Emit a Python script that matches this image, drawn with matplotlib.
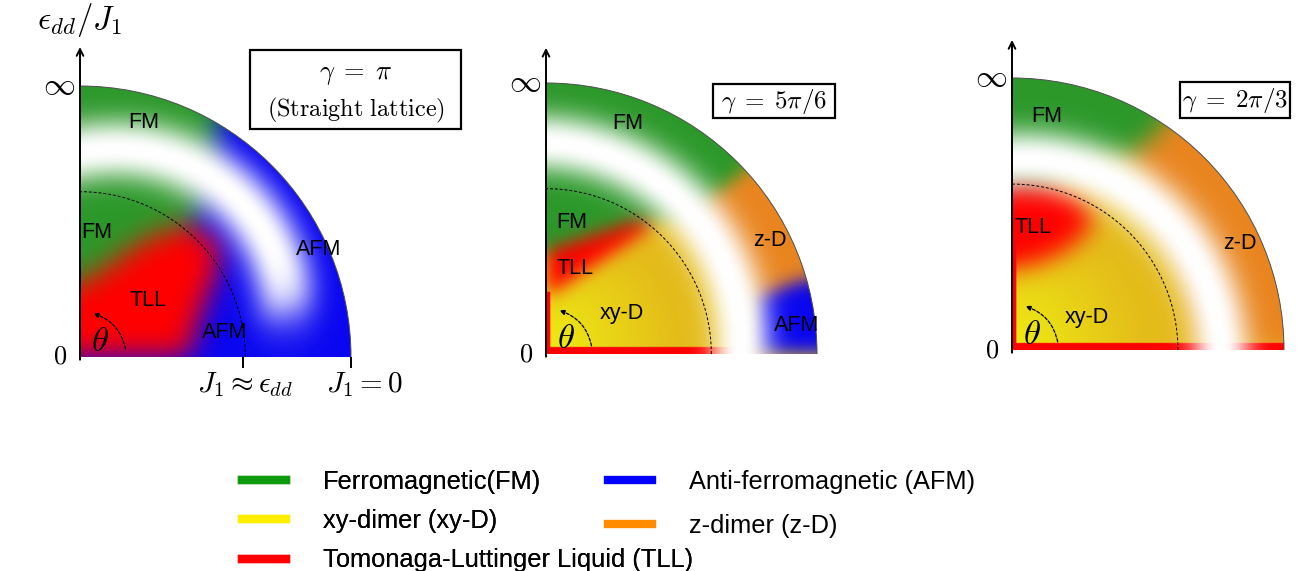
import numpy as np
import matplotlib
import matplotlib.pyplot as plt
from matplotlib.path import Path
from matplotlib.patches import Wedge, Arc, Rectangle, FancyArrowPatch
from matplotlib.lines import Line2D

plt.rcParams['mathtext.fontset'] = 'cm'
plt.rcParams['font.family'] = ['Liberation Sans', 'DejaVu Sans']

W, H = 1302, 571

# phase colours inside the diagrams
colors = {'FM': '#2c982a', 'AFM': '#0a06f0', 'TLL': '#ff0000',
          'xy-D': '#e4bb1a', 'z-D': '#e9851f'}
xyd_core = '#eeee12'

# legend
legend1_keys = ['FM', 'xy-D', 'TLL']
legend1_labels = ['Ferromagnetic(FM)', 'xy-dimer (xy-D)', 'Tomonaga-Luttinger Liquid (TLL)']
legend2_keys = ['AFM', 'z-D']
legend2_labels = ['Anti-ferromagnetic (AFM)', 'z-dimer (z-D)']
swatch = {'FM': '#0c9a0c', 'AFM': '#0000ff', 'xy-D': '#ffee00',
          'z-D': '#ff8c00', 'TLL': '#ff0000'}

# panel 1 : gamma = pi   (radius 1 = epsilon_dd/J1 -> infinity)
p1_base = 'AFM'
p1_regions = [
    ('FM', [(0, 0.27), (0.12, 0.35), (0.25, 0.44), (0.40, 0.49), (0.46, 0.56),
            (0.48, 0.75), (0.52, 0.88), (0.58, 1.2), (0, 1.2)]),
    ('TLL', [(0, 0), (0.40, 0), (0.44, 0.15), (0.50, 0.30), (0.52, 0.42),
             (0.40, 0.49), (0.25, 0.44), (0.12, 0.35), (0, 0.27)]),
]
p1_labels = [('FM', 0.236, 0.867), ('FM', 0.063, 0.46), ('TLL', 0.25, 0.21),
             ('AFM', 0.535, 0.092), ('AFM', 0.88, 0.395)]
p1_ticks = [0.6, 1.0]
p1_ticklabels = [r'$J_1 \approx \epsilon_{dd}$', r'$J_1 = 0$']
p1_ticklabel_x = [0.61, 1.05]

# panel 2 : gamma = 5pi/6
p2_base = 'xy-D'
p2_regions = [
    ('FM', [(0, 0.37), (0.36, 0.49), (0.53, 0.52), (0.69, 0.64), (1.2, 1.1),
            (1.2, 1.2), (0, 1.2)]),
    ('z-D', [(0.53, 0.52), (0.69, 0.64), (1.2, 1.1), (1.2, 0.30), (0.94, 0.27),
             (0.76, 0.20), (0.64, 0.34)]),
    ('AFM', [(0.74, 0), (1.2, 0), (1.2, 0.30), (0.94, 0.27), (0.76, 0.20)]),
    ('TLL', [(0, 0.21), (0, 0.38), (0.36, 0.50), (0.39, 0.47)]),
]
p2_labels = [('FM', 0.30, 0.85), ('FM', 0.096, 0.487), ('TLL', 0.107, 0.317),
             ('xy-D', 0.28, 0.15), ('z-D', 0.827, 0.42), ('AFM', 0.926, 0.107)]

# panel 3 : gamma = 2pi/3
p3_base = 'xy-D'
p3_regions = [
    ('FM', [(0, 0.60), (0.12, 0.64), (0.30, 0.68), (0.42, 0.70), (0.555, 0.82),
            (0.75, 1.2), (0, 1.2)]),
    ('z-D', [(0.42, 0.70), (0.555, 0.82), (0.75, 1.2), (1.3, 1.2), (1.3, 0),
             (0.70, 0), (0.64, 0.30), (0.52, 0.52)]),
    ('TLL', [(0, 0.30), (0.07, 0.31), (0.19, 0.36), (0.29, 0.45), (0.28, 0.53),
             (0.17, 0.61), (0.05, 0.63), (0, 0.63)]),
]
p3_labels = [('FM', 0.129, 0.857), ('TLL', 0.077, 0.452), ('xy-D', 0.276, 0.121),
             ('z-D', 0.838, 0.393)]

titles = [r'$\gamma\;=\;\pi$', r'$\gamma\;=\;5\pi/6$', r'$\gamma\;=\;2\pi/3$']

N = 500
g = np.linspace(0, 1, N)
X, Y = np.meshgrid(g, g)
RR = np.hypot(X, Y)
TH = np.degrees(np.arctan2(Y, X))
pts = np.column_stack([X.ravel(), Y.ravel()])


def rgb(c):
    return np.array(matplotlib.colors.to_rgb(c))


def smooth(img, sigma):
    s = sigma * (N - 1)
    k = np.arange(-int(3 * s), int(3 * s) + 1)
    w = np.exp(-0.5 * (k / s) ** 2)
    w /= w.sum()
    p = len(k) // 2
    out = np.pad(img, ((p, p), (0, 0), (0, 0)), mode='edge')
    out = sum(wi * out[i:i + N] for i, wi in enumerate(w))
    out = np.pad(out, ((0, 0), (p, p), (0, 0)), mode='edge')
    out = sum(wi * out[:, i:i + N] for i, wi in enumerate(w))
    return out


def phase_image(base, regions, sigma, band, strips):
    lab = np.full(X.shape, base, dtype=object)
    for name, poly in regions:
        lab[Path(poly).contains_points(pts).reshape(N, N)] = name
    img = np.zeros((N, N, 3))
    for name in colors:
        m = lab == name
        img[m] = rgb(colors[name])
    t = np.clip(RR / 0.5, 0, 1)[..., None]
    yel = rgb(xyd_core) * (1 - t) + rgb(colors['xy-D']) * t
    m = lab == 'xy-D'
    img[m] = yel[m]
    img = smooth(img, sigma)
    # thin TLL strips along the axes
    for x0, x1, y0, y1, fade in strips:
        a = ((X >= x0) & (X <= x1) & (Y >= y0) & (Y <= y1)).astype(float)
        if fade is not None:
            a *= np.clip((fade[1] - X) / (fade[1] - fade[0]), 0, 1)
        img = img * (1 - a[..., None]) + rgb(colors['TLL']) * a[..., None]
    # white crossover band
    r0, amp_sin, slope, width, cut = band
    rc = r0 + amp_sin * np.sin(np.radians(2 * TH)) + slope * TH / 90
    w = np.exp(-(np.abs(RR - rc) / width) ** 2.4)
    if cut is not None:
        w *= 1 / (1 + np.exp(-(TH - cut) / 3.5))
    img = img * (1 - w[..., None]) + w[..., None]
    return np.clip(img, 0, 1)


fig = plt.figure(figsize=(W / 100, H / 100), dpi=100)

panels = [
    ((80, 357, 271), p1_base, p1_regions, p1_labels, 0.05,
     (0.755, 0.07, 0.0, 0.115, 12), []),
    ((546, 354, 271), p2_base, p2_regions, p2_labels, 0.032,
     (0.72, 0.0, 0.06, 0.11, None),
     [(0, 1, 0, 0.026, (0.58, 0.8)), (0, 0.016, 0, 0.23, None)]),
    ((1012, 350, 272), p3_base, p3_regions, p3_labels, 0.045,
     (0.77, 0.0, -0.07, 0.11, None),
     [(0, 1, 0, 0.026, None), (0, 0.016, 0, 0.40, None)]),
]
box_specs = [(0.627, 0.841, 0.78, 0.292), (0.616, 0.871, 0.45, 0.125),
             (0.618, 0.853, 0.404, 0.132)]
arrow_tops = [1.144, 1.13, 1.14]

for k, (geo, base, regions, labels, sigma, band, strips) in enumerate(panels):
    ox, oy, R = geo
    ax = fig.add_axes([(ox - 0.3 * R) / W, (H - oy - 0.2 * R) / H,
                       1.72 * R / W, 1.5 * R / H])
    ax.set_xlim(-0.3, 1.42)
    ax.set_ylim(-0.2, 1.3)
    ax.axis('off')
    ax.patch.set_alpha(0)

    im = ax.imshow(phase_image(base, regions, sigma, band, strips),
                   extent=[0, 1, 0, 1], origin='lower', interpolation='bilinear')
    im.set_clip_path(Wedge((0, 0), 1.0, 0, 90, transform=ax.transData))
    ax.add_patch(Arc((0, 0), 2, 2, theta1=0, theta2=90, color='0.3', lw=0.7))
    ax.add_patch(Arc((0, 0), 1.22, 1.22, theta1=0, theta2=90, color='black',
                     lw=0.7, ls=(0, (3, 2))))

    ax.annotate('', xy=(0, arrow_tops[k]), xytext=(0, -0.01),
                arrowprops=dict(arrowstyle='->', lw=1.4, color='black',
                                mutation_scale=12, shrinkA=0, shrinkB=0))
    ax.text(-0.078, 1.0, r'$\infty$', fontsize=23, ha='center', va='center')
    ax.text(-0.075, 0.0, r'$0$', fontsize=19, ha='center', va='center')

    for name, x, y in labels:
        ax.text(x, y, name, fontsize=15.5, ha='center', va='center', color='black')

    ax.text(0.074, 0.058, r'$\theta$', fontsize=25, ha='center', va='center')
    ax.add_patch(FancyArrowPatch((0.168, 0.03), (0.05, 0.16),
                                 connectionstyle='arc3,rad=0.29',
                                 arrowstyle='-|>,head_length=3,head_width=1.6',
                                 color='black', lw=0.9, ls=(0, (2.5, 1.5)),
                                 shrinkA=0, shrinkB=0))

    bx, by, bw, bh = box_specs[k]
    ax.add_patch(Rectangle((bx, by), bw, bh, fill=False, ec='black', lw=1.6))
    if k == 0:
        ax.text(bx + bw / 2, 1.04, titles[k], fontsize=19, ha='center', va='center')
        ax.text(bx + bw / 2, 0.908, r'$\mathrm{(Straight\ lattice)}$', fontsize=17.5,
                ha='center', va='center')
        ax.text(0.0, 1.245, r'$\epsilon_{dd}/J_1$', fontsize=23.5, ha='center',
                va='center')
        ax.vlines(p1_ticks, -0.04, 0, color='black', lw=1.4)
        for x, lab in zip(p1_ticklabel_x, p1_ticklabels):
            ax.text(x, -0.103, lab, fontsize=21, ha='center', va='center')
    else:
        ax.text(bx + bw / 2, by + bh / 2, titles[k], fontsize=18, ha='center',
                va='center')

h1 = [Line2D([], [], color=swatch[c], lw=6) for c in legend1_keys]
h2 = [Line2D([], [], color=swatch[c], lw=6) for c in legend2_keys]
common = dict(loc='upper left', frameon=False, borderpad=0, borderaxespad=0,
              handlelength=1.75, handletextpad=1.45, fontsize=18.3)
leg1 = fig.legend(h1, legend1_labels, bbox_to_anchor=(242 / W, 1 - 470 / H),
                  labelspacing=0.6, **common)
fig.add_artist(leg1)
fig.legend(h2, legend2_labels, bbox_to_anchor=(608 / W, 1 - 470 / H),
           labelspacing=0.78, **common)

fig.savefig('out.png', dpi=100)
